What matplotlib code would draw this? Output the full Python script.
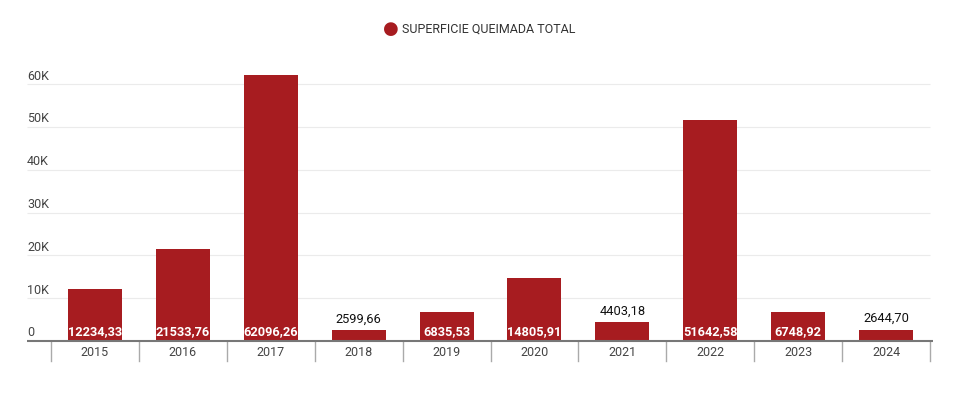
import matplotlib
matplotlib.use("Agg")
import matplotlib.pyplot as plt
from matplotlib.lines import Line2D

plt.rcParams['font.family'] = ['Roboto', 'DejaVu Sans']

years = ["2015", "2016", "2017", "2018", "2019", "2020", "2021", "2022", "2023", "2024"]
values = [12234.33, 21533.76, 62096.26, 2599.66, 6835.53, 14805.91, 4403.18, 51642.58, 6748.92, 2644.70]
value_labels = ["12234,33", "21533,76", "62096,26", "2599,66", "6835,53",
                "14805,91", "4403,18", "51642,58", "6748,92", "2644,70"]
yticks = [0, 10000, 20000, 30000, 40000, 50000, 60000]
ytick_labels = ["0", "10K", "20K", "30K", "40K", "50K", "60K"]
series_name = "SUPERFICIE QUEIMADA TOTAL"

W, H = 964, 395
fig = plt.figure(figsize=(W / 100, H / 100), dpi=100)
fig.patch.set_facecolor("white")

x0, x1 = 51, 930
y_base = 341
y60 = 84
ymax = 65000
px_per = (y_base - y60) / 60000
y_top = y_base - ymax * px_per
ax = fig.add_axes([x0 / W, (H - y_base) / H, (x1 - x0) / W, (y_base - y_top) / H])
ax.set_xlim(-0.5, len(years) - 0.5)
ax.set_ylim(0, ymax)
ax.axis("off")

bar_color = "#A71C20"
xs = list(range(len(years)))
ax.bar(xs, values, width=0.615, color=bar_color, zorder=3)

cat_px = (x1 - x0) / len(years)
x_left = -0.5 - (x0 - 27) / cat_px

for yv, lab in zip(yticks, ytick_labels):
    if yv > 0:
        ax.hlines(yv, x_left, len(years) - 0.5, color="#EBEBEB", lw=0.8, clip_on=False, zorder=1)
    ax.annotate(lab, (x_left, yv), xytext=(0, 8), textcoords="offset pixels",
                ha="left", va="center", fontsize=9, color="#444444", annotation_clip=False)

ax.hlines(0, x_left, len(years) - 0.5 + 0.03, color="#777777", lw=1.5, clip_on=False, zorder=4)

for i in range(len(years) + 1):
    ax.add_line(Line2D([i - 0.5, i - 0.5], [0, -20 / px_per], color="#AAAAAA", lw=1, clip_on=False))

for x, yr in zip(xs, years):
    ax.annotate(yr, (x, 0), xytext=(0, -11), textcoords="offset pixels", ha="center", va="center",
                fontsize=9, color="#444444", annotation_clip=False)

for x, v, lab in zip(xs, values, value_labels):
    if v > 5000:
        ax.annotate(lab, (x, 0), xytext=(0, 9), textcoords="offset pixels", ha="center", va="center",
                    fontsize=9.2, color="white", fontweight="bold", zorder=5)
    else:
        ax.annotate(lab, (x, v), xytext=(0, 11), textcoords="offset pixels", ha="center", va="center",
                    fontsize=9.3, color="#111111", zorder=5)

fig.text(391 / W, 1 - 29 / H, "\u25CF", color=bar_color, fontsize=13, ha="center", va="center")
fig.text(402 / W, 1 - 29 / H, series_name, color="#333333", fontsize=9, ha="left", va="center")

fig.savefig("out.png", dpi=100, facecolor="white")
